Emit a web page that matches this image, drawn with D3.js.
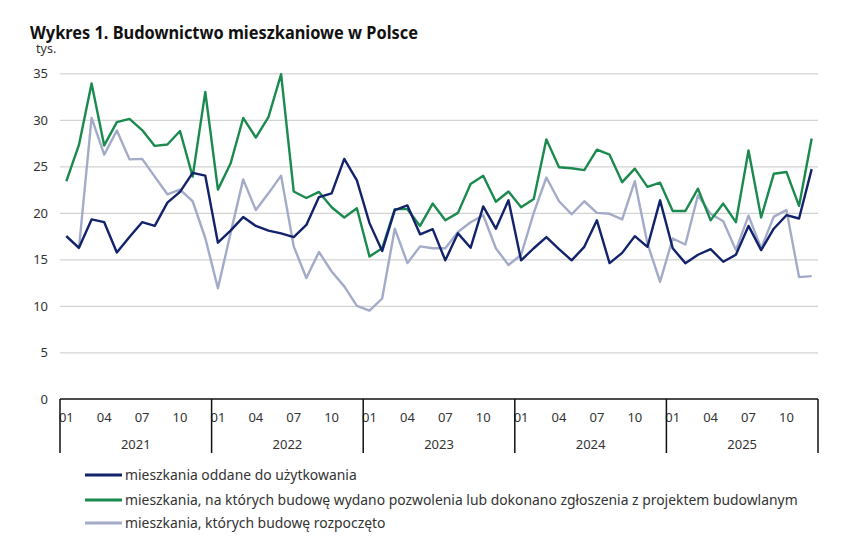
<!DOCTYPE html>
<html><head><meta charset="utf-8">
<script src="https://cdn.jsdelivr.net/npm/d3@7"></script>
<style>
body{margin:0;background:#fff;}
text{font-family:"Noto Sans","Open Sans",sans-serif;}
</style></head>
<body><svg id="c" width="847" height="539"></svg>
<script>
const years = [2021, 2022, 2023, 2024, 2025];
const monthLabels = ["01", "04", "07", "10"];
const yTicks = [0, 5, 10, 15, 20, 25, 30, 35];
const seriesNames = [
  "mieszkania oddane do użytkowania",
  "mieszkania, na których budowę wydano pozwolenia lub dokonano zgłoszenia z projektem budowlanym",
  "mieszkania, których budowę rozpoczęto"
];
const oddane = [17.5,16.25,19.3,19.0,15.75,17.4,19.0,18.6,21.1,22.25,24.3,24.0,
  16.8,18.1,19.55,18.6,18.1,17.8,17.4,18.7,21.7,22.1,25.8,23.5,
  18.9,15.9,20.3,20.8,17.7,18.25,14.9,17.8,16.25,20.7,18.3,21.35,
  14.9,16.2,17.4,16.1,14.9,16.35,19.2,14.6,15.7,17.5,16.35,21.35,
  16.2,14.6,15.5,16.1,14.75,15.5,18.6,16.0,18.3,19.75,19.4,24.7];
const pozwolenia = [23.4,27.3,33.9,27.25,29.75,30.1,28.9,27.2,27.35,28.8,23.9,33.0,
  22.5,25.3,30.2,28.1,30.3,34.9,22.3,21.6,22.25,20.6,19.5,20.5,
  15.3,16.2,20.4,20.4,18.6,21.0,19.2,20.0,23.1,24.0,21.2,22.3,
  20.6,21.5,27.9,24.9,24.8,24.6,26.8,26.25,23.3,24.75,22.8,23.25,
  20.2,20.2,22.6,19.2,21.0,19.0,26.7,19.5,24.2,24.4,20.75,28.0];
const rozpoczete = [17.5,16.2,30.2,26.25,28.85,25.75,25.8,23.9,22.0,22.5,21.25,17.3,
  11.9,17.8,23.6,20.3,22.1,24.0,16.4,13.0,15.8,13.7,12.1,10.0,
  9.5,10.8,18.3,14.6,16.4,16.2,16.2,17.95,19.0,19.75,16.2,14.4,
  15.5,20.0,23.8,21.25,19.85,21.25,20.0,19.9,19.3,23.4,16.7,12.6,
  17.25,16.6,21.9,19.9,19.1,16.0,19.7,16.2,19.6,20.3,13.1,13.2];
const colors = ["#12226b", "#1a8a4e", "#a3abc8"];

const svg = d3.select("#c");
const L = 60, R = 818, T = 73.3, B = 399;
const idx = d3.range(years.length * 12);
const x = d3.scaleBand().domain(idx).range([L, R]).paddingInner(0).paddingOuter(0);
const xc = i => x(i) + x.bandwidth() / 2;
const y = d3.scaleLinear().domain([0, 35]).range([B, T]);

// title
svg.append("text").attr("x", 30).attr("y", 38.5).attr("font-weight", "bold")
  .attr("font-size", 17).attr("fill", "#111").attr("textLength", 388).attr("lengthAdjust","spacingAndGlyphs")
  .text("Wykres 1. Budownictwo mieszkaniowe w Polsce");
svg.append("text").attr("x", 36).attr("y", 53).attr("font-size", 12.5).attr("fill", "#333").text("tys.");

// y axis with gridlines
const yAxis = d3.axisLeft(y).tickValues(yTicks).tickSize(-(R - L)).tickPadding(12).tickFormat(d3.format("d"));
const gy = svg.append("g").attr("transform", `translate(${L},0)`).call(yAxis);
gy.select(".domain").remove();
gy.selectAll(".tick line").attr("stroke", "#d3d3d3").attr("stroke-width", 1.2);
gy.selectAll(".tick text").attr("font-size", 13).attr("fill", "#333")
  .attr("font-family", '"Noto Sans", sans-serif');
gy.selectAll(".tick").filter(d => d === 0).select("line").remove();

// lines
const series = [oddane, pozwolenia, rozpoczete];
const line = d3.line().x((d, i) => xc(i)).y(d => y(d));
[2, 1, 0].forEach(k => {
  svg.append("path").datum(series[k]).attr("d", line).attr("fill", "none")
    .attr("stroke", colors[k]).attr("stroke-width", 2.4).attr("stroke-linejoin", "round");
});

// x axis month labels
const monthIdx = [0, 3, 6, 9];
years.forEach((yr, j) => {
  monthIdx.forEach((m, k) => {
    svg.append("text").attr("x", xc(j * 12 + m)).attr("y", 417).attr("dy", "0.35em")
      .attr("text-anchor", "middle").attr("font-size", 13).attr("fill", "#333").text(monthLabels[k]);
  });
  svg.append("text").attr("x", (x(j * 12) + x(j * 12 + 11) + x.bandwidth()) / 2).attr("y", 444.5).attr("dy", "0.35em")
    .attr("text-anchor", "middle").attr("font-size", 13).attr("fill", "#333").text(yr);
});
svg.append("line").attr("x1", L).attr("x2", R).attr("y1", B).attr("y2", B).attr("stroke", "#111").attr("stroke-width", 1.5);
const seps = years.map((yr, j) => x(j * 12)).concat([R]);
seps.forEach(sx => {
  svg.append("line").attr("x1", sx).attr("x2", sx).attr("y1", B).attr("y2", 453).attr("stroke", "#111").attr("stroke-width", 1.5);
});

// legend
const ly = [475, 500, 523];
seriesNames.forEach((n, k) => {
  svg.append("line").attr("x1", 85).attr("x2", 122).attr("y1", ly[k]).attr("y2", ly[k])
    .attr("stroke", colors[k]).attr("stroke-width", 3);
  svg.append("text").attr("x", 125).attr("y", ly[k]).attr("dy", "0.35em").attr("font-size", 13.9)
    .attr("fill", "#333").text(n);
});
</script></body></html>
